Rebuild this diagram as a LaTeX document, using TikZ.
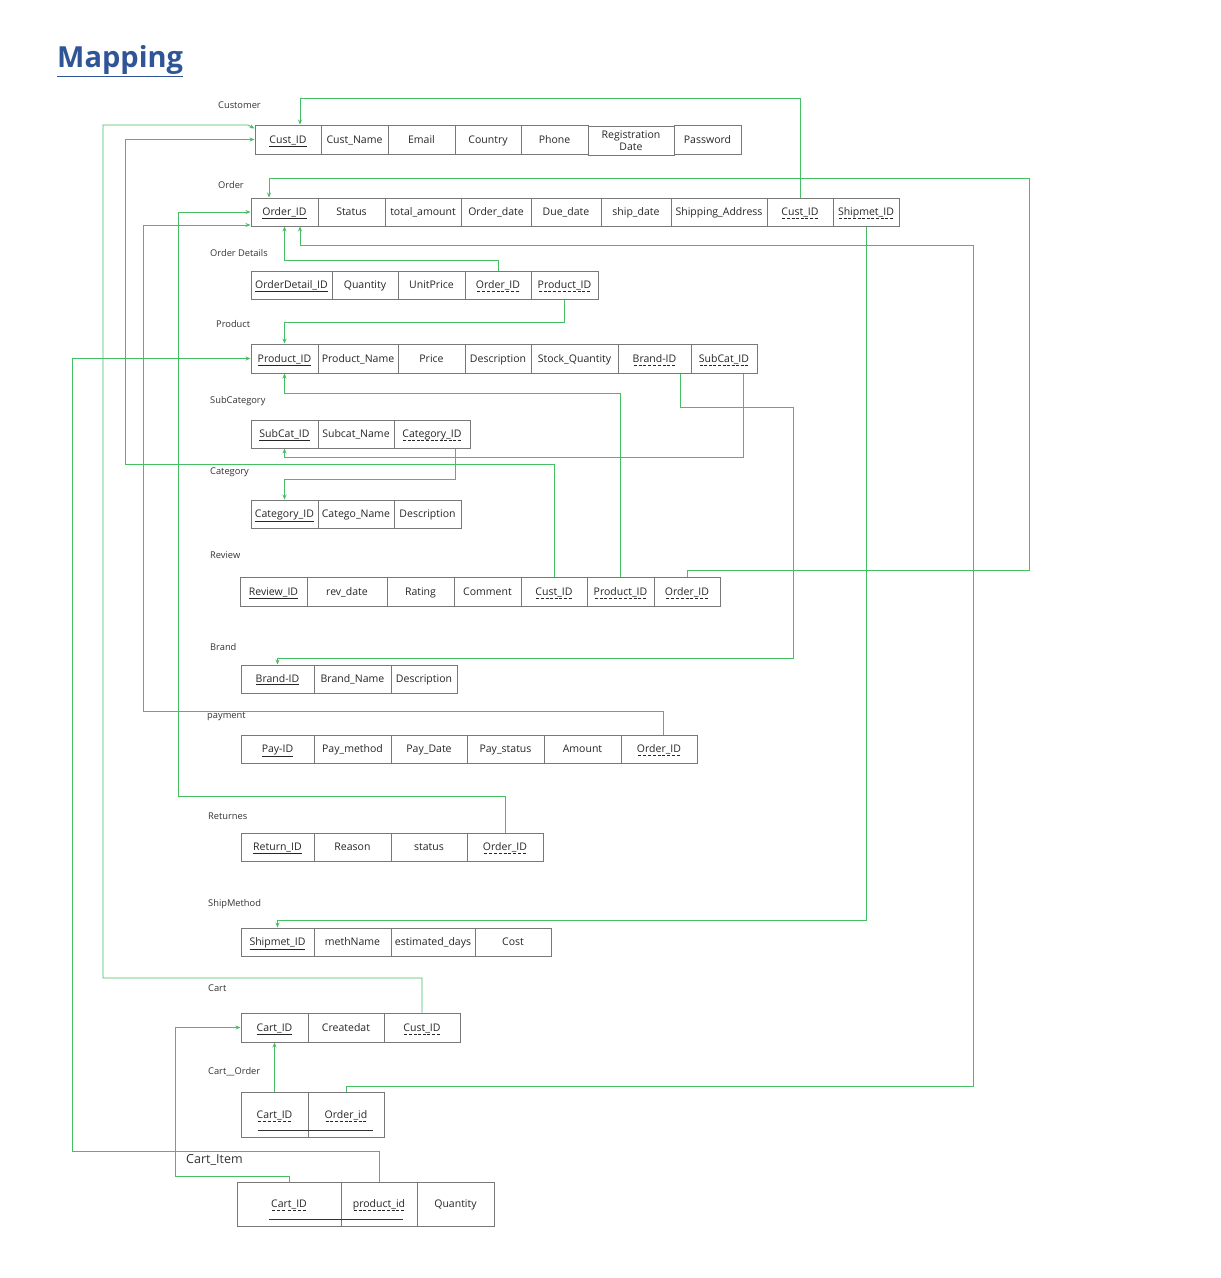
\documentclass[tikz,border=0pt]{standalone}
\usepackage{fontspec}
\setmainfont{Open Sans}
\usetikzlibrary{arrows.meta,calc}
\definecolor{connc}{RGB}{70,190,100}
\definecolor{cellline}{RGB}{120,120,120}
\definecolor{titleblue}{RGB}{47,85,151}
\newsavebox\dulbox
\newcommand\dashul[1]{\sbox\dulbox{#1}\rlap{\hbox to\wd\dulbox{\xleaders\hbox to 4.5pt{\hss\rule[-3.5pt]{3pt}{0.7pt}\hss}\hfill}}\usebox\dulbox}
\tikzset{
 cellbox/.style={draw=cellline,line width=1pt,inner sep=0pt,font=\fontsize{10.5}{11.5}\selectfont,align=center,text=black!85,text height=9pt,text depth=2pt},
 lbl/.style={anchor=west,inner sep=0pt,font=\fontsize{9.3}{10}\selectfont,text=black!80},
 conn/.style={draw=connc,line width=0.8pt,-{Stealth[length=5pt,width=4pt]}},
 pkline/.style={draw=black!80,line width=1.2pt},
}
\newcommand\mycell[6]{\node[cellbox,minimum width={#3pt-#2pt},minimum height={#5pt-#4pt}] (#1) at ({(#2+#3)/2},{(#4+#5)/2}) {#6};}
\begin{document}
\begin{tikzpicture}[x=1pt,y=-1pt]
\useasboundingbox[fill=white] (0,0) rectangle (1221,1278);
% title
\node[anchor=west,inner sep=0pt,font=\fontsize{29}{32}\bfseries,text=titleblue] (title) at (57,61) {\underline{Mapping}};
% labels
\node[lbl] (lcu) at (218,105) {Customer};
\node[lbl] (lor) at (218,185) {Order};
\node[lbl] (lod) at (210,253) {Order Details};
\node[lbl] (lpr) at (216,324) {Product};
\node[lbl] (lsc) at (210,401) {SubCategory};
\node[lbl] (lca) at (210,472) {Category};
\node[lbl] (lrv) at (210,555) {Review};
\node[lbl] (lbr) at (210,647) {Brand};
\node[lbl] (lpa) at (207,717) {payment};
\node[lbl] (lre) at (208,816) {Returnes};
\node[lbl] (lsm) at (208,904) {ShipMethod};
\node[lbl] (lct) at (208,988) {Cart};
\node[lbl] (lco) at (208,1072) {Cart\_\_Order};
\node[lbl,font=\fontsize{12.5}{14}\selectfont] (lci) at (186,1160) {Cart\_Item};
% Customer
\mycell{cu1}{255}{321}{125}{154}{\underline{Cust\_ID}}
\mycell{cu2}{321}{388}{125}{154}{Cust\_Name}
\mycell{cu3}{388}{455}{125}{154}{Email}
\mycell{cu4}{455}{521}{125}{154}{Country}
\mycell{cu5}{521}{588}{125}{154}{Phone}
\node[cellbox,text height=,text depth=,minimum width=86pt,minimum height=29pt] (cu6) at (631,140.5) {Registration\\[1pt]Date};
\mycell{cu7}{674}{741}{125}{154}{Password}
% Order
\mycell{or1}{251}{318}{198}{226}{\underline{Order\_ID}}
\mycell{or2}{318}{385}{198}{226}{Status}
\mycell{or3}{385}{461}{198}{226}{total\_amount}
\mycell{or4}{461}{531}{198}{226}{Order\_date}
\mycell{or5}{531}{601}{198}{226}{Due\_date}
\mycell{or6}{601}{671}{198}{226}{ship\_date}
\mycell{or7}{671}{767}{198}{226}{Shipping\_Address}
\mycell{or8}{767}{833}{198}{226}{\dashul{Cust\_ID}}
\mycell{or9}{833}{899}{198}{226}{\dashul{Shipmet\_ID}}
% Order Details
\mycell{od1}{251}{332}{271}{299}{\underline{OrderDetail\_ID}}
\mycell{od2}{332}{398}{271}{299}{Quantity}
\mycell{od3}{398}{465}{271}{299}{UnitPrice}
\mycell{od4}{465}{531}{271}{299}{\dashul{Order\_ID}}
\mycell{od5}{531}{598}{271}{299}{\dashul{Product\_ID}}
% Product
\mycell{pr1}{251}{318}{344}{373}{\underline{Product\_ID}}
\mycell{pr2}{318}{398}{344}{373}{Product\_Name}
\mycell{pr3}{398}{465}{344}{373}{Price}
\mycell{pr4}{465}{531}{344}{373}{Description}
\mycell{pr5}{531}{618}{344}{373}{Stock\_Quantity}
\mycell{pr6}{618}{691}{344}{373}{\dashul{Brand-ID}}
\mycell{pr7}{691}{757}{344}{373}{\dashul{SubCat\_ID}}
% SubCategory
\mycell{sc1}{251}{318}{420}{448}{\underline{SubCat\_ID}}
\mycell{sc2}{318}{394}{420}{448}{Subcat\_Name}
\mycell{sc3}{394}{470}{420}{448}{\dashul{Category\_ID}}
% Category
\mycell{ca1}{251}{318}{500}{528}{\underline{Category\_ID}}
\mycell{ca2}{318}{394}{500}{528}{Catego\_Name}
\mycell{ca3}{394}{461}{500}{528}{Description}
% Review
\mycell{rv1}{240}{307}{577}{606}{\underline{Review\_ID}}
\mycell{rv2}{307}{387}{577}{606}{rev\_date}
\mycell{rv3}{387}{454}{577}{606}{Rating}
\mycell{rv4}{454}{521}{577}{606}{Comment}
\mycell{rv5}{521}{587}{577}{606}{\dashul{Cust\_ID}}
\mycell{rv6}{587}{654}{577}{606}{\dashul{Product\_ID}}
\mycell{rv7}{654}{720}{577}{606}{\dashul{Order\_ID}}
% Brand
\mycell{br1}{241}{314}{665}{693}{\underline{Brand-ID}}
\mycell{br2}{314}{391}{665}{693}{Brand\_Name}
\mycell{br3}{391}{457}{665}{693}{Description}
% payment
\mycell{pa1}{241}{314}{735}{763}{\underline{Pay-ID}}
\mycell{pa2}{314}{391}{735}{763}{Pay\_method}
\mycell{pa3}{391}{467}{735}{763}{Pay\_Date}
\mycell{pa4}{467}{544}{735}{763}{Pay\_status}
\mycell{pa5}{544}{621}{735}{763}{Amount}
\mycell{pa6}{621}{697}{735}{763}{\dashul{Order\_ID}}
% Returnes
\mycell{re1}{241}{314}{833}{861}{\underline{Return\_ID}}
\mycell{re2}{314}{391}{833}{861}{Reason}
\mycell{re3}{391}{467}{833}{861}{status}
\mycell{re4}{467}{543}{833}{861}{\dashul{Order\_ID}}
% ShipMethod
\mycell{sm1}{241}{314}{928}{956}{\underline{Shipmet\_ID}}
\mycell{sm2}{314}{391}{928}{956}{methName}
\mycell{sm3}{391}{475}{928}{956}{estimated\_days}
\mycell{sm4}{475}{551}{928}{956}{Cost}
% Cart
\mycell{ct1}{241}{308}{1013}{1042}{\underline{Cart\_ID}}
\mycell{ct2}{308}{384}{1013}{1042}{Createdat}
\mycell{ct3}{384}{460}{1013}{1042}{\dashul{Cust\_ID}}
% Cart_Order
\mycell{co1}{241}{308}{1092}{1137}{\dashul{Cart\_ID}}
\mycell{co2}{308}{384}{1092}{1137}{\dashul{Order\_id}}
\draw[pkline] ($(co1.south west)+(17,-7)$) -- ($(co2.south east)+(-12,-7)$);
% Cart_Item
\mycell{ci1}{237}{341}{1182}{1226}{\dashul{Cart\_ID}}
\mycell{ci2}{341}{417}{1182}{1226}{\dashul{product\_id}}
\mycell{ci3}{417}{494}{1182}{1226}{Quantity}
\draw[pkline] ($(ci1.south west)+(32,-7)$) -- ($(ci2.south east)+(-15,-7)$);
% connectors
\draw[conn] (or8.north) |- (300,98) -- ([xshift=12pt]cu1.north);
\draw[conn] (ct3.north) |- (103,978) |- (248,125) -- ($(cu1.north west)+(0,4)$);
\draw[conn] (rv5.north) |- (125,464) |- (cu1.west);
\draw[conn] (rv7.north) |- (1029,570) |- (269,178) -- ([xshift=-15.5pt]or1.north);
\draw[conn] (re4.north) |- (178,796) |- (or1.west);
\draw[conn] ([xshift=4pt]pa6.north) |- (143,711) |- ($(or1.south west)+(0,-1.5)$);
\draw[conn] (od4.north) |- (284.5,260) -- (or1.south);
\draw[conn] (co2.north) |- (973,1086) |- (300,245) -- ([xshift=15.5pt]or1.south);
\draw[conn] (od5.south) |- (284.5,322) -- (pr1.north);
\draw[conn] (ci2.north) |- (72,1151) |- (pr1.west);
\draw[conn] (rv6.north) |- (284.5,393) -- (pr1.south);
\draw[conn] ([xshift=25.5pt]pr6.south) |- (793,407) |- (277.5,658) -- (br1.north);
\draw[conn] ([xshift=19pt]pr7.south) |- (284.5,457) -- (sc1.south);
\draw[conn] ([xshift=23pt]sc3.south) |- (284.5,479) -- (ca1.north);
\draw[conn] (or9.south) |- (277.5,920) -- (sm1.north);
\draw[conn] (co1.north) -- (ct1.south);
\draw[conn] (ci1.north) |- (175,1176) |- (ct1.west);
\end{tikzpicture}
\end{document}
